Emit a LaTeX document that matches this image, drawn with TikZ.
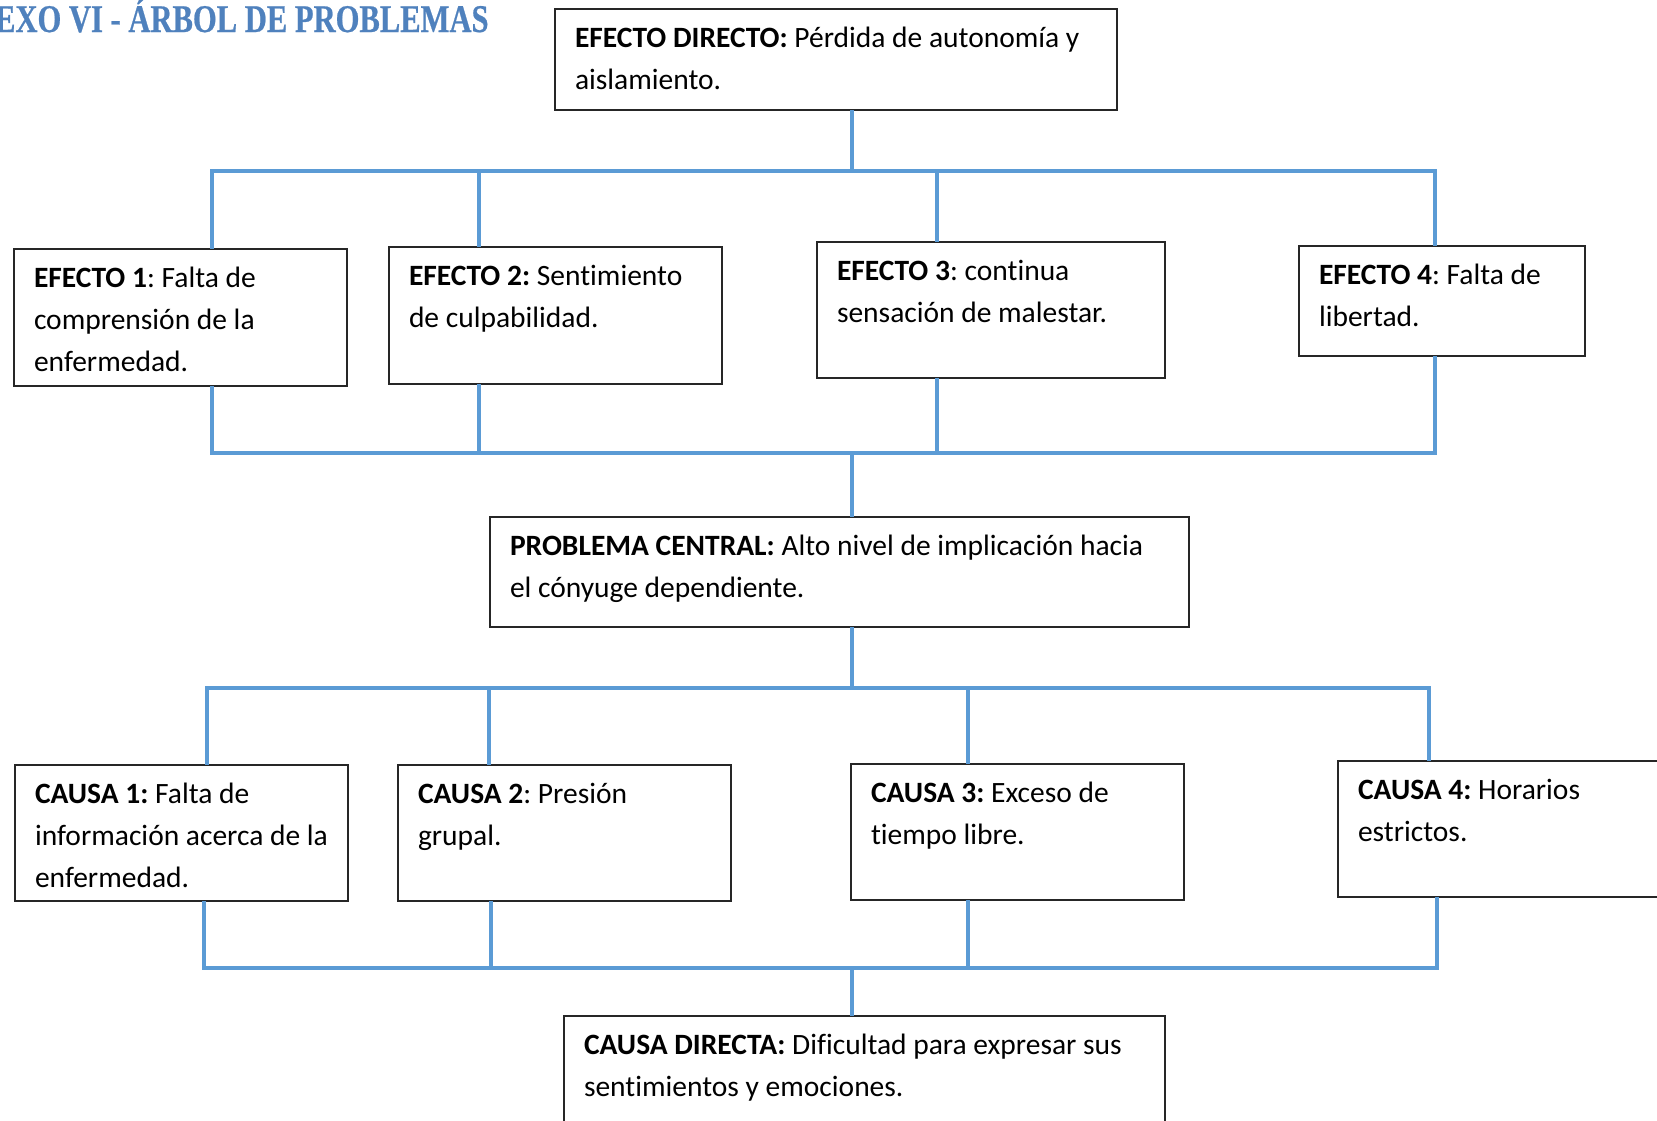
\documentclass[tikz,border=0pt]{standalone}
\usepackage{fontspec}
\setmainfont[Ligatures=NoCommon]{Carlito}
\newfontfamily\titlefont[FakeStretch=0.78, FakeBold=0.6]{Liberation Serif}
\usetikzlibrary{calc}
\definecolor{linkblue}{RGB}{91,155,213}
\definecolor{titleblue}{RGB}{79,129,189}
\tikzset{
    box/.style={draw=black!85, line width=0.7pt, fill=white, inner sep=0pt, outer sep=0pt, anchor=north west},
    link/.style={draw=linkblue, line width=2.2pt},
    bus/.style={link, line cap=rect}
}
\frenchspacing
% box body: width and height in pixels of the sheet
\newcommand{\cell}[3]{\parbox[c][\dimexpr#2pt/2\relax][t]{\dimexpr#1pt/2\relax}{\raggedright\leftskip=10pt\rule{0pt}{19pt}#3}}

\begin{document}
\begin{tikzpicture}[x=0.5pt, y=-0.5pt, font=\fontsize{14.75}{21}\selectfont]
    \useasboundingbox (0,0) rectangle (1657,1120);

    % title
    \node[anchor=base east, inner sep=0pt, text=titleblue, font=\titlefont\bfseries\fontsize{19.6}{22}\selectfont] at (489,32) (title) {ANEXO VI - ÁRBOL DE PROBLEMAS};

    % place nodes
    \node[box] at (555,9)    (ed) {\cell{562}{101}{\textbf{EFECTO DIRECTO:} Pérdida de autonomía y\\aislamiento.}};

    \node[box] at (14,249)   (e1) {\cell{333}{137}{\textbf{EFECTO 1}: Falta de\\comprensión de la\\enfermedad.}};
    \node[box] at (389,247)  (e2) {\cell{333}{137}{\textbf{EFECTO 2:} Sentimiento\\de culpabilidad.}};
    \node[box] at (817,242)  (e3) {\cell{348}{136}{\textbf{EFECTO 3}: continua\\sensación de malestar.}};
    \node[box] at (1299,246) (e4) {\cell{286}{110}{\textbf{EFECTO 4}: Falta de\\libertad.}};

    \node[box] at (490,517)  (pc) {\cell{699}{110}{\textbf{PROBLEMA CENTRAL:} Alto nivel de implicación hacia\\el cónyuge dependiente.}};

    \node[box] at (15,765)   (c1) {\cell{333}{136}{\textbf{CAUSA 1:} Falta de\\información acerca de la\\enfermedad.}};
    \node[box] at (398,765)  (c2) {\cell{333}{136}{\textbf{CAUSA 2}: Presión\\grupal.}};
    \node[box] at (851,764)  (c3) {\cell{333}{136}{\textbf{CAUSA 3:} Exceso de\\tiempo libre.}};
    \node[box] at (1338,761) (c4) {\cell{340}{136}{\textbf{CAUSA 4:} Horarios\\estrictos.}};

    \node[box] at (564,1016) (cd) {\cell{601}{130}{\textbf{CAUSA DIRECTA:} Dificultad para expresar sus\\sentimientos y emociones.}};

    % draw edges
    \coordinate (j1) at (852,171);
    \coordinate (j2) at (852,453);
    \coordinate (j3) at (852,688);
    \coordinate (j4) at (852,968);

    \foreach \n/\x in {e1/212, e2/479, e3/937, e4/1435} {
        \coordinate (t\n) at (\x,171);
        \coordinate (b\n) at (\x,453);
        \draw[link] (t\n) -- (t\n |- \n.north);
        \draw[link] (b\n) -- (b\n |- \n.south);
    }
    \foreach \n/\x/\u in {c1/207/204, c2/489/491, c3/968/968, c4/1429/1437} {
        \coordinate (t\n) at (\x,688);
        \coordinate (b\n) at (\u,968);
        \draw[link] (t\n) -- (t\n |- \n.north);
        \draw[link] (b\n) -- (b\n |- \n.south);
    }
    \draw[bus] (te1) -- (te4);
    \draw[bus] (be1) -- (be4);
    \draw[bus] (tc1) -- (tc4);
    \draw[bus] (bc1) -- (bc4);

    \draw[link] (ed.south -| j1) -- (j1);
    \draw[link] (j2) -- (j2 |- pc.north);
    \draw[link] (pc.south -| j3) -- (j3);
    \draw[link] (j4) -- (j4 |- cd.north);
\end{tikzpicture}
\end{document}
